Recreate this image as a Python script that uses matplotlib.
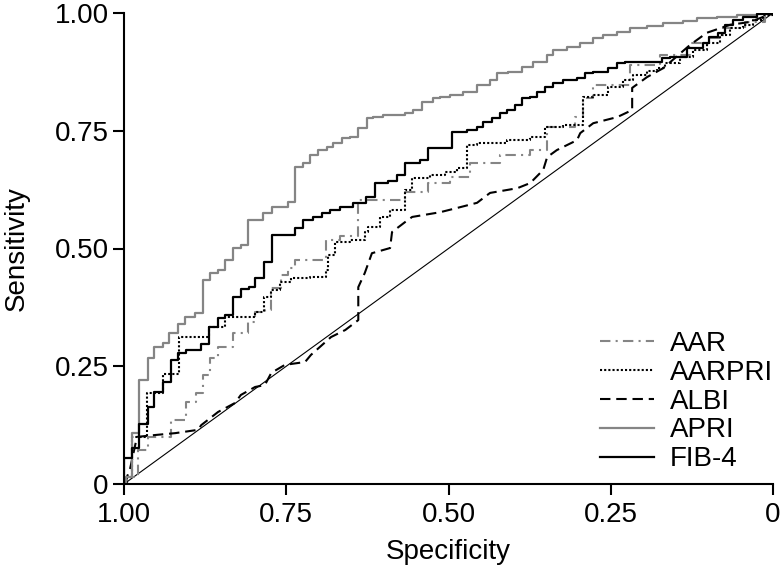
import matplotlib
matplotlib.use("Agg")
import matplotlib.pyplot as plt
import numpy as np

plt.rcParams['font.family'] = ['Liberation Sans', 'DejaVu Sans']

# 1 - specificity (false positive rate) and sensitivity
aar_fpr = [0, 0.005, 0.022, 0.037, 0.072, 0.096, 0.111, 0.122, 0.133, 0.145, 0.168,
           0.191, 0.202, 0.217, 0.227, 0.242, 0.253, 0.263, 0.311, 0.333, 0.361,
           0.433, 0.468, 0.502, 0.533, 0.579, 0.626, 0.652, 0.695, 0.707, 0.723,
           0.780, 0.826, 0.872, 0.903, 0.923, 0.957, 0.988, 1.0]
aar_sens = [0, 0.015, 0.072, 0.100, 0.136, 0.174, 0.193, 0.231, 0.268, 0.291, 0.321,
            0.344, 0.365, 0.369, 0.416, 0.444, 0.459, 0.476, 0.518, 0.527, 0.603,
            0.620, 0.639, 0.652, 0.682, 0.699, 0.709, 0.758, 0.779, 0.820, 0.847,
            0.890, 0.911, 0.936, 0.947, 0.968, 0.981, 0.996, 1.0]

aarpri_fpr = [0, 0.005, 0.012, 0.035, 0.060, 0.085, 0.131, 0.156, 0.202, 0.216,
              0.227, 0.240, 0.257, 0.287, 0.311, 0.314, 0.325, 0.348, 0.371, 0.376,
              0.394, 0.410, 0.433, 0.444, 0.471, 0.495, 0.513, 0.529, 0.544, 0.590,
              0.626, 0.649, 0.676, 0.707, 0.723, 0.746, 0.769, 0.784, 0.806, 0.821,
              0.834, 0.857, 0.877, 0.898, 0.918, 0.934, 0.954, 0.969, 0.985, 1.0]
aarpri_sens = [0, 0.015, 0.100, 0.193, 0.234, 0.312, 0.333, 0.355, 0.365, 0.397,
               0.412, 0.429, 0.437, 0.439, 0.454, 0.486, 0.514, 0.518, 0.535, 0.546,
               0.567, 0.582, 0.624, 0.650, 0.656, 0.662, 0.671, 0.720, 0.724, 0.730,
               0.737, 0.758, 0.762, 0.822, 0.826, 0.843, 0.858, 0.868, 0.877, 0.883,
               0.894, 0.907, 0.921, 0.936, 0.953, 0.968, 0.975, 0.985, 0.996, 1.0]

albi_fpr = [0, 0.009, 0.020, 0.048, 0.079, 0.114, 0.119, 0.145, 0.171, 0.180, 0.202,
            0.217, 0.227, 0.248, 0.279, 0.288, 0.319, 0.341, 0.361, 0.361, 0.371,
            0.382, 0.410, 0.413, 0.433, 0.444, 0.487, 0.513, 0.544, 0.564, 0.606,
            0.626, 0.646, 0.652, 0.667, 0.698, 0.703, 0.723, 0.760, 0.783, 0.783,
            0.806, 0.831, 0.872, 0.898, 0.934, 0.965, 1.0]
albi_sens = [0, 0.030, 0.100, 0.104, 0.108, 0.115, 0.125, 0.153, 0.172, 0.189, 0.206,
             0.210, 0.236, 0.253, 0.259, 0.274, 0.312, 0.327, 0.348, 0.418, 0.448,
             0.490, 0.501, 0.535, 0.556, 0.567, 0.577, 0.586, 0.597, 0.618, 0.628,
             0.639, 0.667, 0.694, 0.709, 0.730, 0.745, 0.766, 0.779, 0.794, 0.841,
             0.864, 0.883, 0.932, 0.958, 0.975, 0.981, 1.0]

apri_fpr = [0, 0.003, 0.012, 0.023, 0.037, 0.046, 0.060, 0.069, 0.083, 0.094, 0.109,
            0.122, 0.133, 0.145, 0.156, 0.168, 0.180, 0.191, 0.214, 0.228, 0.253,
            0.263, 0.276, 0.287, 0.299, 0.313, 0.322, 0.336, 0.348, 0.361, 0.374,
            0.384, 0.399, 0.433, 0.445, 0.459, 0.476, 0.487, 0.502, 0.522, 0.544,
            0.564, 0.575, 0.592, 0.613, 0.630, 0.652, 0.661, 0.683, 0.703, 0.723,
            0.738, 0.760, 0.780, 0.806, 0.831, 0.861, 0.883, 0.914, 0.945, 0.975, 1.0]
apri_sens = [0, 0.015, 0.108, 0.221, 0.268, 0.291, 0.299, 0.321, 0.340, 0.355, 0.363,
             0.433, 0.448, 0.454, 0.476, 0.501, 0.507, 0.561, 0.575, 0.588, 0.599,
             0.673, 0.682, 0.699, 0.709, 0.716, 0.724, 0.735, 0.737, 0.756, 0.777,
             0.779, 0.783, 0.788, 0.794, 0.811, 0.820, 0.822, 0.826, 0.832, 0.847,
             0.858, 0.873, 0.875, 0.885, 0.896, 0.911, 0.921, 0.928, 0.936, 0.947,
             0.953, 0.960, 0.968, 0.972, 0.979, 0.983, 0.989, 0.992, 0.996, 1.0, 1.0]

fib4_fpr = [0, 0, 0.012, 0.023, 0.037, 0.046, 0.060, 0.072, 0.083, 0.096, 0.119,
            0.131, 0.145, 0.156, 0.168, 0.180, 0.193, 0.202, 0.216, 0.228, 0.263,
            0.276, 0.291, 0.305, 0.317, 0.333, 0.353, 0.373, 0.387, 0.407, 0.421,
            0.433, 0.456, 0.468, 0.505, 0.529, 0.544, 0.553, 0.567, 0.579, 0.590,
            0.602, 0.613, 0.626, 0.636, 0.649, 0.661, 0.676, 0.698, 0.710, 0.723,
            0.746, 0.760, 0.772, 0.829, 0.841, 0.867, 0.892, 0.901, 0.915, 0.926,
            0.938, 0.954, 0.975, 1.0]
fib4_sens = [0, 0.055, 0.076, 0.127, 0.163, 0.195, 0.217, 0.263, 0.278, 0.285, 0.297,
             0.333, 0.352, 0.359, 0.397, 0.414, 0.418, 0.437, 0.471, 0.529, 0.544,
             0.561, 0.567, 0.575, 0.582, 0.588, 0.597, 0.609, 0.639, 0.643, 0.656,
             0.682, 0.688, 0.713, 0.747, 0.752, 0.758, 0.769, 0.777, 0.788, 0.794,
             0.805, 0.820, 0.822, 0.832, 0.843, 0.851, 0.858, 0.862, 0.873, 0.875,
             0.883, 0.894, 0.896, 0.904, 0.907, 0.926, 0.936, 0.949, 0.958, 0.975,
             0.985, 0.992, 0.998, 1.0]

tick_vals = [1.0, 0.75, 0.5, 0.25, 0.0]
tick_labels = ['1.00', '0.75', '0.50', '0.25', '0']

gray = '#858585'

fig = plt.figure(figsize=(7.82, 5.75), dpi=100)
ax = fig.add_axes([124 / 782, 91 / 575, 649 / 782, 471 / 575])

# reference diagonal
ax.plot([1, 0], [0, 1], color='black', lw=0.8)

ax.plot(1 - np.array(aar_fpr), aar_sens, drawstyle='steps-post', color=gray,
        lw=1.5, linestyle=(0, (5, 2.5, 1, 2.5)), label='AAR')
ax.plot(1 - np.array(aarpri_fpr), aarpri_sens, drawstyle='steps-post', color='black',
        lw=1.5, linestyle=(0, (1, 1)), label='AARPRI')
ax.plot(1 - np.array(albi_fpr), albi_sens, color='black',
        lw=1.5, linestyle=(0, (5, 2.8)), label='ALBI')
ax.plot(1 - np.array(apri_fpr), apri_sens, drawstyle='steps-post', color=gray,
        lw=1.6, label='APRI')
ax.plot(1 - np.array(fib4_fpr), fib4_sens, drawstyle='steps-post', color='black',
        lw=1.6, label='FIB-4')

ax.set_xlim(1, 0)
ax.set_ylim(0, 1)
ax.set_xticks(tick_vals)
ax.set_xticklabels(tick_labels)
ax.set_yticks(tick_vals)
ax.set_yticklabels(tick_labels)

for side in ['top', 'right']:
    ax.spines[side].set_visible(False)
for side in ['left', 'bottom']:
    ax.spines[side].set_linewidth(1.5)

ax.tick_params(axis='both', direction='out', length=8, width=1.5, labelsize=20)
ax.tick_params(axis='x', pad=5)
ax.tick_params(axis='y', pad=3)

ax.set_xlabel('Specificity', fontsize=20, labelpad=8)
ax.set_ylabel('Sensitivity', fontsize=20, labelpad=18)

ax.legend(loc='lower right', bbox_to_anchor=(1.0, 0.025), frameon=False, fontsize=20,
          borderaxespad=0, borderpad=0, labelspacing=0.1, handlelength=1.95,
          handletextpad=0.58)

fig.savefig('out.png', dpi=100)
